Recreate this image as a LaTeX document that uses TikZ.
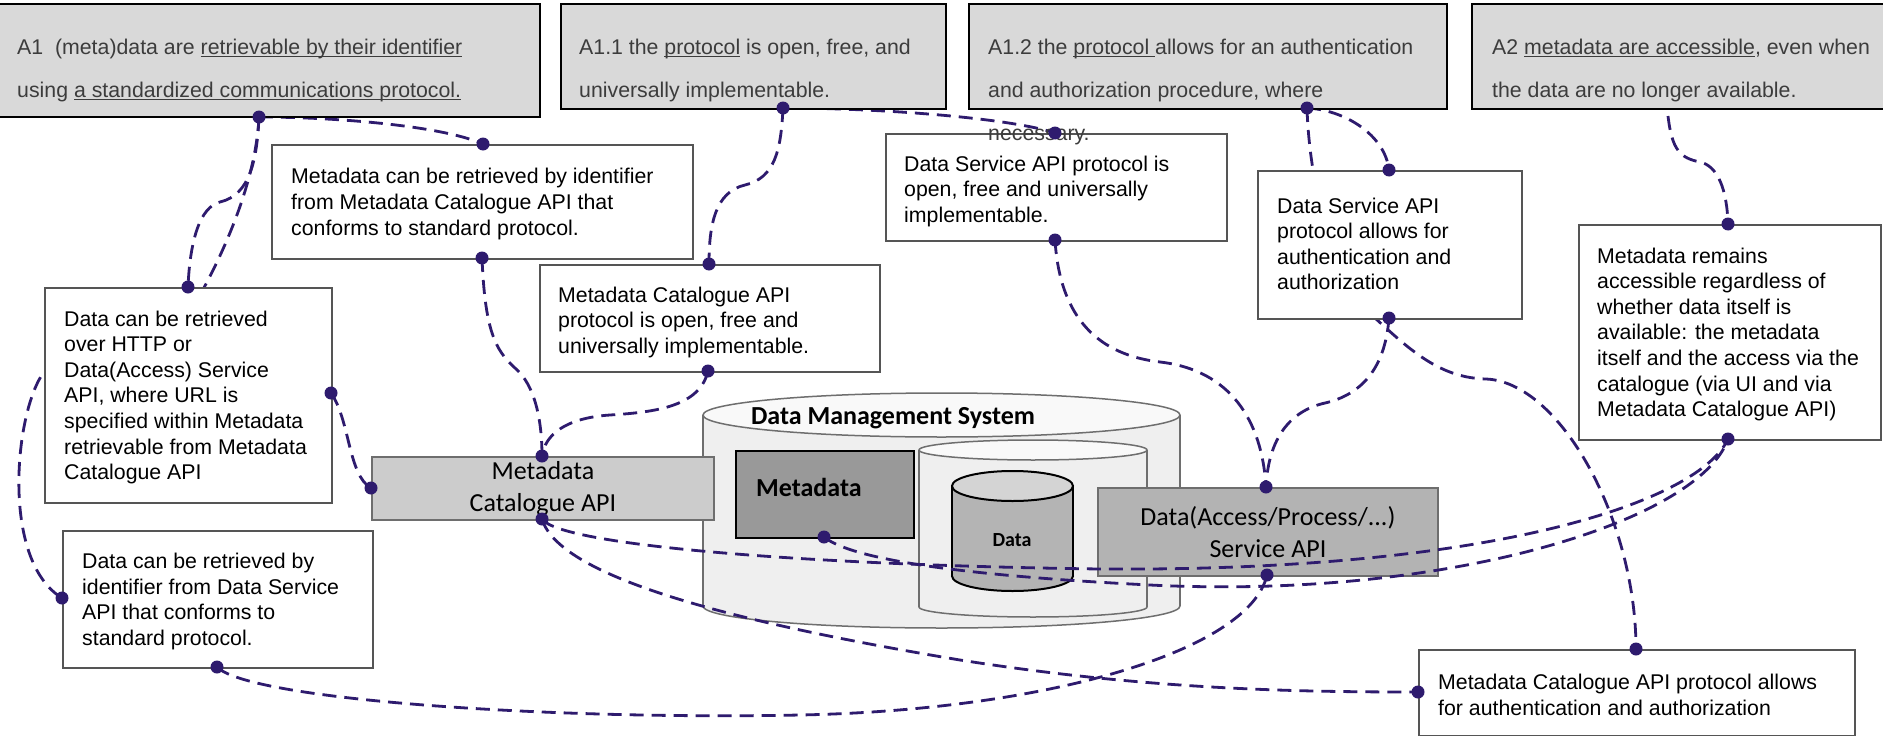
\documentclass[tikz,border=0pt]{standalone}
\usepackage{fontspec}
\setmainfont{Liberation Sans}
\newfontfamily\calib{Carlito}
\definecolor{conncol}{RGB}{46,27,110}
\definecolor{topfill}{RGB}{217,217,217}
\definecolor{toptext}{RGB}{60,60,60}
\definecolor{boxline}{RGB}{85,85,85}
\definecolor{cylline}{RGB}{110,110,110}
\definecolor{dmsbody}{RGB}{239,239,239}
\definecolor{dmstop}{RGB}{249,249,249}
\definecolor{mcfill}{RGB}{204,204,204}
\definecolor{dsfill}{RGB}{179,179,179}
\definecolor{mdfill}{RGB}{153,153,153}
\definecolor{datafill}{RGB}{180,180,180}
\definecolor{datatop}{RGB}{212,212,212}
\newsavebox\ulbox
\newcommand{\myul}[1]{\sbox\ulbox{#1}\rlap{\rule[-3.4pt]{\wd\ulbox}{1.4pt}}\usebox\ulbox}
\begin{document}
\begin{tikzpicture}[x=1pt,y=-1pt,
  topbox/.style={draw=black, line width=1.8pt, fill=topfill, anchor=north west, inner sep=0pt},
  toptxt/.style={anchor=base west, inner sep=0pt, text=toptext, font=\fontsize{21.3}{25.6}\selectfont},
  mbox/.style={draw=boxline, line width=1.8pt, fill=white, anchor=north west, inner sep=0pt},
  mtxt/.style={anchor=west, inner sep=0pt, align=left, font=\fontsize{21.3}{25.6}\selectfont},
  conn/.style={draw=conncol, line width=2.8pt, dash pattern=on 14pt off 8pt},
  dot/.style={fill=conncol},
  apibox/.style={draw=cylline, line width=1.8pt, anchor=north west, align=center, inner sep=0pt, font=\calib\fontsize{26}{32}\selectfont},
  cyl/.style={draw=cylline, line width=1.5pt},
]
\useasboundingbox (0,0) rectangle (1883,736);
\fill[white] (0,0) rectangle (1883,736);

% Data Management System cylinder
\draw[cyl, fill=dmsbody] (941.5,606) ellipse[x radius=238.5, y radius=22];
\fill[dmsbody] (703,415) rectangle (1180,606);
\draw[cyl] (703,415) -- (703,606) (1180,415) -- (1180,606);
\draw[cyl, fill=dmstop] (941.5,415) ellipse[x radius=238.5, y radius=22];
\node[font=\calib\bfseries\fontsize{26}{30}\selectfont, inner sep=0pt] (dmsl) at (893,418) {Data Management System};

% inner cylinder
\draw[cyl, fill=dmsbody] (1033,607) ellipse[x radius=114, y radius=10];
\fill[dmsbody] (919,450) rectangle (1147,607);
\draw[cyl] (919,450) -- (919,607) (1147,450) -- (1147,607);
\draw[cyl, fill=dmstop] (1033,450) ellipse[x radius=114, y radius=10];

% Metadata box
\node[draw=black, line width=1.8pt, fill=mdfill, anchor=north west, minimum width=178pt, minimum height=87pt, inner sep=0pt] (md) at (735,450) {};
\node[font=\calib\bfseries\fontsize{26}{30}\selectfont, anchor=west, inner sep=0pt] (mdl) at (756,487) {Metadata};

% Data cylinder
\draw[draw=black, line width=2pt, fill=datafill] (1012.5,576) ellipse[x radius=60.5, y radius=15];
\fill[datafill] (952,486) rectangle (1073,576);
\draw[draw=black, line width=2pt] (952,486) -- (952,576) (1073,486) -- (1073,576);
\draw[draw=black, line width=2pt, fill=datatop] (1012.5,486) ellipse[x radius=60.5, y radius=15];
\node[font=\calib\bfseries\fontsize{20}{24}\selectfont, inner sep=0pt] (datal) at (1012,540) {Data};

% API boxes
\node[apibox, fill=mcfill, minimum width=342pt, minimum height=63pt] (mc) at (371,456) {Metadata\\Catalogue API};
\node[apibox, fill=dsfill, minimum width=340pt, minimum height=88pt] (ds) at (1097,487) {Data(Access/Process/...)\\Service API};

% connector end points
\coordinate (pA1) at (259,117);
\coordinate (pB1t) at (483,144);
\coordinate (pB2t) at (188,287);
\coordinate (pB7l) at (62,598);
\coordinate (pA11) at (783,108);
\coordinate (pB3t) at (709,264);
\coordinate (pB4t) at (1055,133);
\coordinate (pA12) at (1307,108);
\coordinate (pB5t) at (1389,170);
\coordinate (pB8t) at (1636,649);
\coordinate (pA2) at (1668,116);
\coordinate (pB6t) at (1728,224);
\coordinate (pB1b) at (482,258);
\coordinate (pMCt) at (542,456);
\coordinate (pB3b) at (708,371);
\coordinate (pB2r) at (331,393);
\coordinate (pMCl) at (371,488);
\coordinate (pMCb) at (542,519);
\coordinate (pB8l) at (1418,692);
\coordinate (pB6b) at (1728,439);
\coordinate (pMDb) at (824,537);
\coordinate (pB4b) at (1055,240);
\coordinate (pDSt) at (1266,487);
\coordinate (pB5b) at (1389,318);
\coordinate (pDSb) at (1267,575);
\coordinate (pB7b) at (217,667);

% connectors
\draw[conn] (pA1) .. controls (330,117) and (440,125) .. (pB1t);
\draw[conn] (pA1) .. controls (257,160) and (250,195) .. (220,202) .. controls (200,207) and (190,240) .. (pB2t);
\draw[conn] (pA1) .. controls (256,180) and (225,250) .. (200,295) .. controls (170,350) and (80,330) .. (44,372) .. controls (15,410) and (0,560) .. (pB7l);
\draw[conn] (pA11) .. controls (880,108) and (1010,118) .. (pB4t);
\draw[conn] (pA11) .. controls (781,150) and (775,178) .. (745,185) .. controls (715,192) and (709,225) .. (pB3t);
\draw[conn] (pA12) .. controls (1345,110) and (1385,135) .. (pB5t);
\draw[conn] (pA12) .. controls (1310,200) and (1340,290) .. (1375,318) .. controls (1410,350) and (1440,378) .. (1486,379) .. controls (1560,382) and (1636,520) .. (pB8t);
\draw[conn] (pA2) .. controls (1672,150) and (1680,158) .. (1700,162) .. controls (1718,166) and (1727,190) .. (pB6t);
\draw[conn] (pB1b) .. controls (485,330) and (495,350) .. (515,368) .. controls (535,385) and (542,420) .. (pMCt);
\draw[conn] (pB3b) .. controls (700,405) and (660,412) .. (610,415) .. controls (565,418) and (545,435) .. (pMCt);
\draw[conn] (pB2r) .. controls (350,420) and (348,475) .. (pMCl);
\draw[conn] (pMCb) .. controls (560,545) and (800,565) .. (1100,569) .. controls (1500,572) and (1700,500) .. (pB6b);
\draw[conn] (pMCb) .. controls (560,580) and (750,625) .. (960,660) .. controls (1150,690) and (1300,692) .. (pB8l);
\draw[conn] (pMDb) .. controls (850,558) and (950,575) .. (1150,585) .. controls (1450,600) and (1700,520) .. (pB6b);
\draw[conn] (pB4b) .. controls (1060,320) and (1100,355) .. (1160,362) .. controls (1230,370) and (1262,420) .. (pDSt);
\draw[conn] (pB5b) .. controls (1385,370) and (1360,395) .. (1325,403) .. controls (1285,412) and (1268,445) .. (pDSt);
\draw[conn] (pB7b) .. controls (250,700) and (550,720) .. (800,715) .. controls (1050,710) and (1250,650) .. (pDSb);

% middle white boxes
\node[mbox, minimum width=421pt, minimum height=114pt] (b1) at (271,144) {};
\node[mtxt, yshift=-2pt] (b1t) at ([xshift=20pt]b1.west) {Metadata can be retrieved by identifier\\from Metadata Catalogue API that\\conforms to standard protocol.};
\node[mbox, minimum width=287pt, minimum height=215pt] (b2) at (44,287) {};
\node[mtxt, yshift=-2pt] (b2t) at ([xshift=20pt]b2.west) {Data can be retrieved\\over HTTP or\\Data(Access) Service\\API, where URL is\\specified within Metadata\\retrievable from Metadata\\Catalogue API};
\node[mbox, minimum width=340pt, minimum height=107pt] (b3) at (539,264) {};
\node[mtxt, yshift=-4pt] (b3t) at ([xshift=19pt]b3.west) {Metadata Catalogue API\\protocol is open, free and\\universally implementable.};
\node[mbox, minimum width=341pt, minimum height=107pt] (b4) at (885,133) {};
\node[mtxt, yshift=-4pt] (b4t) at ([xshift=19pt]b4.west) {Data Service API protocol is\\open, free and universally\\implementable.};
\node[mbox, minimum width=264pt, minimum height=148pt] (b5) at (1257,170) {};
\node[mtxt, yshift=1pt] (b5t) at ([xshift=20pt]b5.west) {Data Service API\\protocol allows for\\authentication and\\authorization};
\node[mbox, minimum width=302pt, minimum height=215pt] (b6) at (1578,224) {};
\node[mtxt, yshift=-2pt] (b6t) at ([xshift=19pt]b6.west) {Metadata remains\\accessible regardless of\\whether data itself is\\available: the metadata\\itself and the access via the\\catalogue (via UI and via\\Metadata Catalogue API)};
\node[mbox, minimum width=310pt, minimum height=137pt] (b7) at (62,530) {};
\node[mtxt, yshift=-2pt] (b7t) at ([xshift=20pt]b7.west) {Data can be retrieved by\\identifier from Data Service\\API that conforms to\\standard protocol.};
\node[mbox, minimum width=436pt, minimum height=86pt] (b8) at (1418,649) {};
\node[mtxt, yshift=-2pt] (b8t) at ([xshift=20pt]b8.west) {Metadata Catalogue API protocol allows\\for authentication and authorization};

% top boxes
\node[topbox, minimum width=542pt, minimum height=113pt] (a1) at (-3,3) {};
\node[topbox, minimum width=385pt, minimum height=105pt] (a11) at (560,3) {};
\node[topbox, minimum width=478pt, minimum height=105pt] (a12) at (968,3) {};
\node[topbox, minimum width=420pt, minimum height=105pt] (a2) at (1471,3) {};
\node[toptxt] (a1l1) at (17,54) {A1\ \ (meta)data are \myul{retrievable by their identifier}};
\node[toptxt] (a1l2) at (17,97) {using \myul{a standardized communications protocol.}};
\node[toptxt] (a11l1) at (579,54) {A1.1 the \myul{protocol} is open, free, and};
\node[toptxt] (a11l2) at (579,97) {universally implementable.};
\node[toptxt] (a12l1) at (988,54) {A1.2 the \myul{protocol }allows for an authentication};
\node[toptxt] (a12l2) at (988,97) {and authorization procedure, where};
\node[toptxt] (a12l3) at (988,140) {necessary.};
\node[toptxt] (a2l1) at (1492,54) {A2 \myul{metadata are accessible}, even when};
\node[toptxt] (a2l2) at (1492,97) {the data are no longer available.};

% dots
\foreach \p in {pA1,pB1t,pB2t,pB7l,pA11,pB3t,pB4t,pA12,pB5t,pB8t,pB6t,pB1b,pMCt,pB3b,pB2r,pMCl,pMCb,pB8l,pB6b,pMDb,pB4b,pDSt,pB5b,pDSb,pB7b}
  \fill[dot] (\p) circle[radius=6.5];
\end{tikzpicture}
\end{document}
